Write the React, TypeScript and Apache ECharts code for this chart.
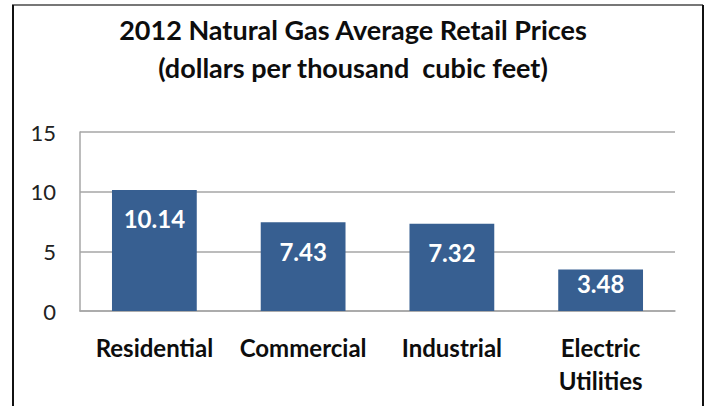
import React, { useEffect, useRef } from "react";
import * as echarts from "echarts";

const titleLines = ["2012 Natural Gas Average Retail Prices", "(dollars per thousand  cubic feet)"];
const categories = ["Residential", "Commercial", "Industrial", "Electric\nUtilities"];
const prices = [10.14, 7.43, 7.32, 3.48];
const yTicks = { min: 0, max: 15, interval: 5 };

const FONT = "Lato, 'Open Sans', sans-serif";

export default function App() {
  const ref = useRef<HTMLDivElement>(null);
  useEffect(() => {
    if (!ref.current) return;
    const chart = echarts.init(ref.current, null, { renderer: "svg" });
    chart.setOption({
      animation: false,
      backgroundColor: "#ffffff",
      title: {
        text: titleLines.join("\n"),
        left: "center",
        top: 5,
        textStyle: {
          fontFamily: FONT,
          fontWeight: "bold",
          fontSize: 27,
          lineHeight: 38,
          color: "#0d0d0d",
        },
      },
      graphic: [
        {
          type: "line",
          shape: { x1: 12, y1: 5, x2: 703, y2: 5 },
          style: { stroke: "#777777", lineWidth: 2 },
        },
        {
          type: "line",
          shape: { x1: 13, y1: 5, x2: 13, y2: 406 },
          style: { stroke: "#111111", lineWidth: 2 },
        },
        {
          type: "line",
          shape: { x1: 703, y1: 5, x2: 703, y2: 406 },
          style: { stroke: "#111111", lineWidth: 2 },
        },
      ],
      grid: { left: 80, right: 31, top: 132, bottom: 95, containLabel: false },
      xAxis: {
        type: "category",
        data: categories,
        axisLine: { show: true, lineStyle: { color: "#a6a6a6", width: 1.5 } },
        axisTick: { show: false },
        axisLabel: {
          fontFamily: FONT,
          fontWeight: "bold",
          fontSize: 24,
          color: "#0d0d0d",
          margin: 20,
          lineHeight: 33,
          interval: 0,
        },
      },
      yAxis: {
        type: "value",
        min: yTicks.min,
        max: yTicks.max,
        interval: yTicks.interval,
        axisLine: { show: true, lineStyle: { color: "#a6a6a6", width: 1.5 } },
        axisTick: { show: false },
        splitLine: { show: true, lineStyle: { color: "#a6a6a6", width: 1.5 } },
        axisLabel: {
          fontFamily: FONT,
          fontSize: 22,
          color: "#222222",
          margin: 24,
        },
      },
      series: [
        {
          type: "bar",
          data: prices.map((v) =>
            v < 5 ? { value: v, label: { distance: 2 } } : { value: v }
          ),
          barWidth: "57%",
          itemStyle: { color: "#375F91" },
          label: {
            show: true,
            position: "insideTop",
            distance: 17,
            formatter: (p: any) => Number(p.value).toFixed(2),
            fontFamily: FONT,
            fontWeight: "bold",
            fontSize: 24,
            color: "#ffffff",
          },
        },
      ],
    });
    return () => chart.dispose();
  }, []);
  return (
    <div
      ref={ref}
      style={{ position: "fixed", left: 0, top: 0, width: 706, height: 406 }}
    />
  );
}
